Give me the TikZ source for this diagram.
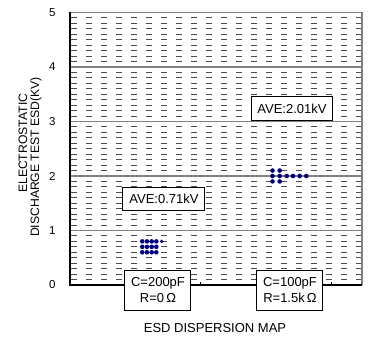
\documentclass[tikz,border=0pt]{standalone}
\usepackage{fontspec}
\setmainfont{Liberation Sans}
\usetikzlibrary{positioning}

\definecolor{esdnavy}{RGB}{0,0,128}
\tikzset{
  minorline/.style={black!70, line width=0.9pt, dash pattern=on 6pt off 9pt},
  majorline/.style={black!50, line width=1.2pt},
  axisline/.style={black, line width=1.2pt},
  labelbox/.style={draw, fill=white, line width=1pt, inner sep=0pt, font=\fontsize{13}{16.5}\selectfont},
  esddot/.style={fill=esdnavy, draw=none},
}

\begin{document}
\begin{tikzpicture}[x=1pt, y=1pt]
\useasboundingbox (0,0) rectangle (368,349);
\begin{scope}[shift={(70,64)}, y=54.5pt]
% grid
\foreach \k in {0,...,4}
  \foreach \m in {1,...,9}
    \draw [minorline] (1.5,\k+\m/10) -- (292,\k+\m/10);
\foreach \k in {1,...,4}
  \draw [majorline] (0,\k) -- (292,\k);
\draw [majorline] (0,5) -- (292,5) -- (292,0);
\draw [axisline] (0,5) -- (0,0) -- (292,0);
\draw [axisline] (130.7,0) -- (130.7,0.055);
\draw [axisline] (261.7,0) -- (261.7,0.055);

% tick labels
\foreach \k in {0,...,5}
  \node [anchor=east, font=\fontsize{11.5}{13}\selectfont] (tick\k) at (-11,\k) {\k};

% axis titles
\node [rotate=90, font=\fontsize{12.2}{14}\selectfont] (ylabA) at (-47,2.6) {ELECTROSTATIC};
\node [rotate=90, font=\fontsize{12.2}{14}\selectfont] (ylabB) at (-34,2.35) {DISCHARGE TEST ESD(KV)};
\node [font=\fontsize{13}{15}\selectfont] (maptitle) at (145,-0.789) {ESD DISPERSION MAP};

% C=200pF points
\foreach \x in {72.3,77,81.7,86.3}
  \foreach \v in {0.6,0.7,0.8}
    \fill [esddot] (\x,\v) circle (2.3pt);
\fill [esddot] (91.7,0.8) circle (1.9pt);

% C=100pF points
\foreach \x in {202.5,209.7}
  \foreach \v in {1.9,2.0,2.1}
    \fill [esddot] (\x,\v) circle (2.3pt);
\foreach \x in {216.7,223,229.7,236.3}
  \fill [esddot] (\x,2.0) circle (2.3pt);

% boxes
\node [labelbox, minimum width=81pt, minimum height=24pt] (aveB) at (222,3.23) {AVE:2.01kV};
\node [labelbox, minimum width=82pt, minimum height=23pt] (aveA) at (94,1.587) {AVE:0.71kV};
\node [labelbox, minimum width=66pt, minimum height=40pt, align=center] (condA) at (88,-0.092) {C=200pF\\R=0\,Ω};
\node [labelbox, minimum width=66pt, minimum height=40pt, align=center] (condB) at (220,-0.092) {C=100pF\\R=1.5k\,Ω};
\end{scope}
\end{tikzpicture}
\end{document}
